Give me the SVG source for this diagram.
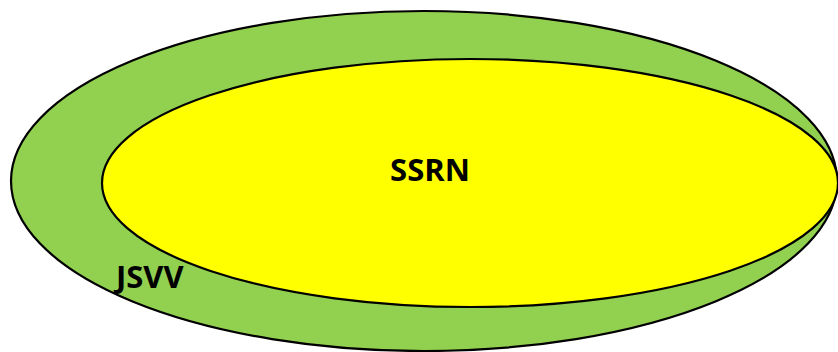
<svg xmlns="http://www.w3.org/2000/svg" width="838" height="352" viewBox="0 0 838 352">
  <style>
    .set { stroke: #000; stroke-width: 2.2; }
    .label { font-family: "Open Sans", "Liberation Sans", sans-serif; font-weight: bold; font-size: 31px; fill: #000; }
  </style>
  <rect width="838" height="352" fill="#fff"/>
  <g id="jsvv">
    <ellipse class="set" cx="424" cy="181" rx="413" ry="170" fill="#92D050"/>
    <text class="label" x="116" y="288">JSVV</text>
  </g>
  <g id="ssrn">
    <ellipse class="set" cx="470" cy="183" rx="368" ry="124" fill="#FFFF00"/>
    <text class="label" x="430" y="181" text-anchor="middle">SSRN</text>
  </g>
  <g id="connectors"/>
</svg>
